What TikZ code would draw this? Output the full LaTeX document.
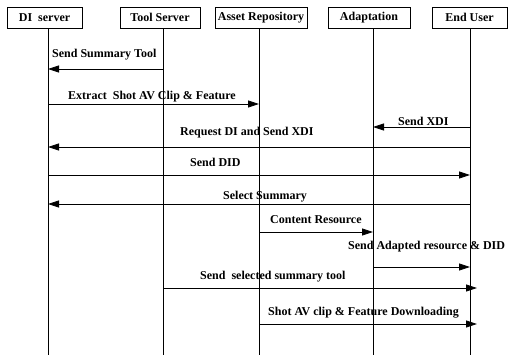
\documentclass[tikz,border=0pt]{standalone}
\usepackage{fontspec}
\setmainfont{Liberation Serif}
\usetikzlibrary{arrows.meta}

\begin{document}
\begin{tikzpicture}[x=1pt,y=-1pt,
  actorbox/.style={draw,line width=0.8pt,minimum height=21pt,inner xsep=1pt,
    font=\bfseries\fontsize{12}{14}\selectfont},
  lifeline/.style={line width=0.8pt},
  msg/.style={line width=0.8pt,-{Triangle[length=11pt,width=7pt]}},
  msglabel/.style={anchor=west,inner sep=0pt,font=\bfseries\fontsize{12}{14}\selectfont}]
  \useasboundingbox (0,0) rectangle (512,355);

  % actors
  \node[actorbox,minimum width=75pt] (di) at (44.5,17.5) {DI\ \ server};
  \node[actorbox,minimum width=80pt] (tool) at (160,17.5) {Tool Server};
  \node[actorbox,minimum width=92pt] (asset) at (261,17.5) {Asset Repository};
  \node[actorbox,minimum width=82pt] (adapt) at (369,17.5) {Adaptation};
  \node[actorbox,minimum width=75pt] (user) at (469.5,17.5) {End User};

  % lifelines
  \foreach \n/\x in {di/48,tool/163,asset/259,adapt/373,user/470} {
    \coordinate (\n L) at (\x,0);
    \coordinate (\n E) at (\x,355);
    \draw[lifeline] (\n L |- \n.south) -- (\n E);
  }

  % messages
  \draw[msg] (0,69 -| toolL) -- (0,69 -| diL);
  \node[msglabel] (m1) at (52,55) {Send Summary Tool};

  \draw[msg] (0,104 -| diL) -- (0,104 -| assetL);
  \node[msglabel] (m2) at (68,97) {Extract\ \ Shot AV Clip \& Feature};

  \draw[msg] (0,127 -| userL) -- (0,127 -| adaptL);
  \node[msglabel] (m3) at (398,121) {Send XDI};

  \draw[msg] (0,147 -| userL) -- (0,147 -| diL);
  \node[msglabel] (m4) at (180,133) {Request DI and Send XDI};

  \draw[msg] (0,175 -| diL) -- (0,175 -| userL);
  \node[msglabel] (m5) at (190,162) {Send DID};

  \draw[msg] (0,204 -| userL) -- (0,204 -| diL);
  \node[msglabel] (m6) at (223,197) {Select Summary};

  \draw[msg] (0,232 -| assetL) -- (0,232 -| adaptL);
  \node[msglabel] (m7) at (270,220) {Content Resource};

  \draw[msg] (0,267 -| adaptL) -- (0,267 -| userL);
  \node[msglabel] (m8) at (348,247) {Send Adapted resource \& DID};

  \draw[msg,shorten >=-7pt] (0,288 -| toolL) -- (0,288 -| userL);
  \node[msglabel] (m9) at (200,277) {Send\ \ selected summary tool};

  \draw[msg,shorten >=-7pt] (0,324 -| assetL) -- (0,324 -| userL);
  \node[msglabel] (m10) at (268,313) {Shot AV clip \& Feature Downloading};
\end{tikzpicture}
\end{document}
